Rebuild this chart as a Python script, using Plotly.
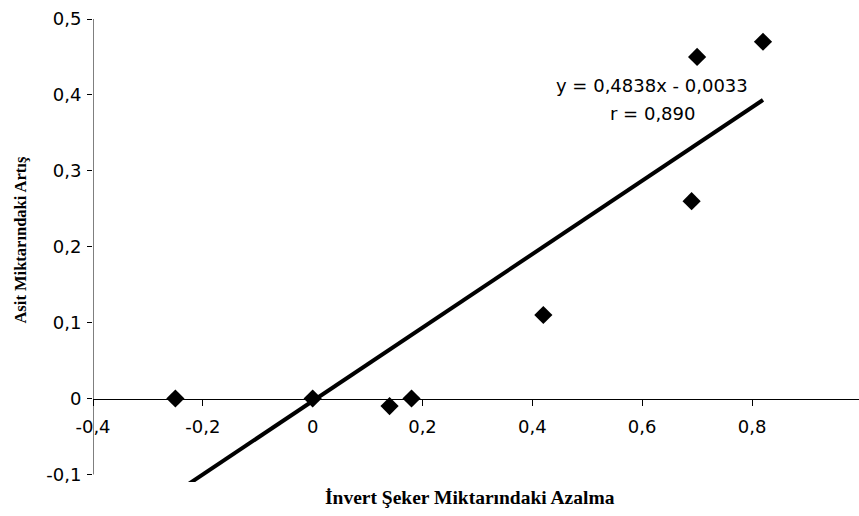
import plotly.graph_objects as go

# Measured pairs: decrease in invert sugar vs. increase in acid
invert_decrease = [-0.25, 0.0, 0.14, 0.18, 0.42, 0.69, 0.70, 0.82]
acid_increase = [0.0, 0.0, -0.01, 0.0, 0.11, 0.26, 0.45, 0.47]

# Linear fit as reported on the chart
slope = 0.4838
intercept = -0.0033
r_value = "0,890"

x_tick_vals = [-0.4, -0.2, 0.0, 0.2, 0.4, 0.6, 0.8]
x_tick_text = ["-0,4", "-0,2", "0", "0,2", "0,4", "0,6", "0,8"]
y_tick_vals = [-0.1, 0.0, 0.1, 0.2, 0.3, 0.4, 0.5]
y_tick_text = ["-0,1", "0", "0,1", "0,2", "0,3", "0,4", "0,5"]

x_range = [-0.4, 0.9948]
y_range = [-0.11, 0.5]

fit_x = [min(invert_decrease), max(invert_decrease)]
fit_y = [slope * v + intercept for v in fit_x]

tick_font = dict(family="DejaVu Sans", size=18, color="black")

fig = go.Figure()

fig.add_trace(go.Scatter(
    x=fit_x, y=fit_y, mode="lines",
    line=dict(color="black", width=4),
    showlegend=False, hoverinfo="skip",
))
fig.add_trace(go.Scatter(
    x=invert_decrease, y=acid_increase, mode="markers",
    marker=dict(symbol="diamond", size=14, color="black"),
    showlegend=False, cliponaxis=False,
))

# vertical axis line from -0,1 to 0,5 at the left edge
fig.add_shape(type="line", xref="x", yref="y",
              x0=x_range[0], x1=x_range[0], y0=-0.1, y1=0.5,
              line=dict(color="black", width=1))

eq_text = "y = 0,4838x - 0,0033"
fig.add_annotation(x=0.618, y=0.412, xref="x", yref="y", text=eq_text,
                   showarrow=False, font=tick_font)
fig.add_annotation(x=0.618, y=0.375, xref="x", yref="y", text="r = " + r_value,
                   showarrow=False, font=tick_font)

fig.add_annotation(x=0.492, y=-0.0329, xref="paper", yref="paper",
                   xanchor="center", yanchor="middle",
                   text="<b>İnvert Şeker Miktarındaki Azalma</b>",
                   showarrow=False, font=dict(family="Liberation Serif", size=19.5, color="black"))
fig.add_annotation(x=-0.095, y=0.522, xref="paper", yref="paper",
                   xanchor="center", yanchor="middle",
                   text="<b>Asit Miktarındaki Artış</b>", textangle=-90,
                   showarrow=False, font=dict(family="Liberation Serif", size=16.5, color="black"))

zero_pos = (0 - y_range[0]) / (y_range[1] - y_range[0])

fig.update_layout(
    width=859, height=516,
    margin=dict(l=93, r=0, t=19, b=34),
    plot_bgcolor="white", paper_bgcolor="white",
    xaxis=dict(
        range=x_range, tickvals=x_tick_vals, ticktext=x_tick_text,
        showgrid=False, zeroline=False, showline=True, linecolor="black", linewidth=1,
        ticks="outside", ticklen=6, tickcolor="black",
        anchor="free", position=zero_pos, tickfont=tick_font,
        ticklabelstandoff=6,
    ),
    yaxis=dict(
        range=y_range, tickvals=y_tick_vals, ticktext=y_tick_text,
        showgrid=False, zeroline=False, showline=False,
        ticks="outside", ticklen=5, tickcolor="black", tickfont=tick_font,
        ticklabelstandoff=2,
    ),
)

fig.write_html("out.html")
